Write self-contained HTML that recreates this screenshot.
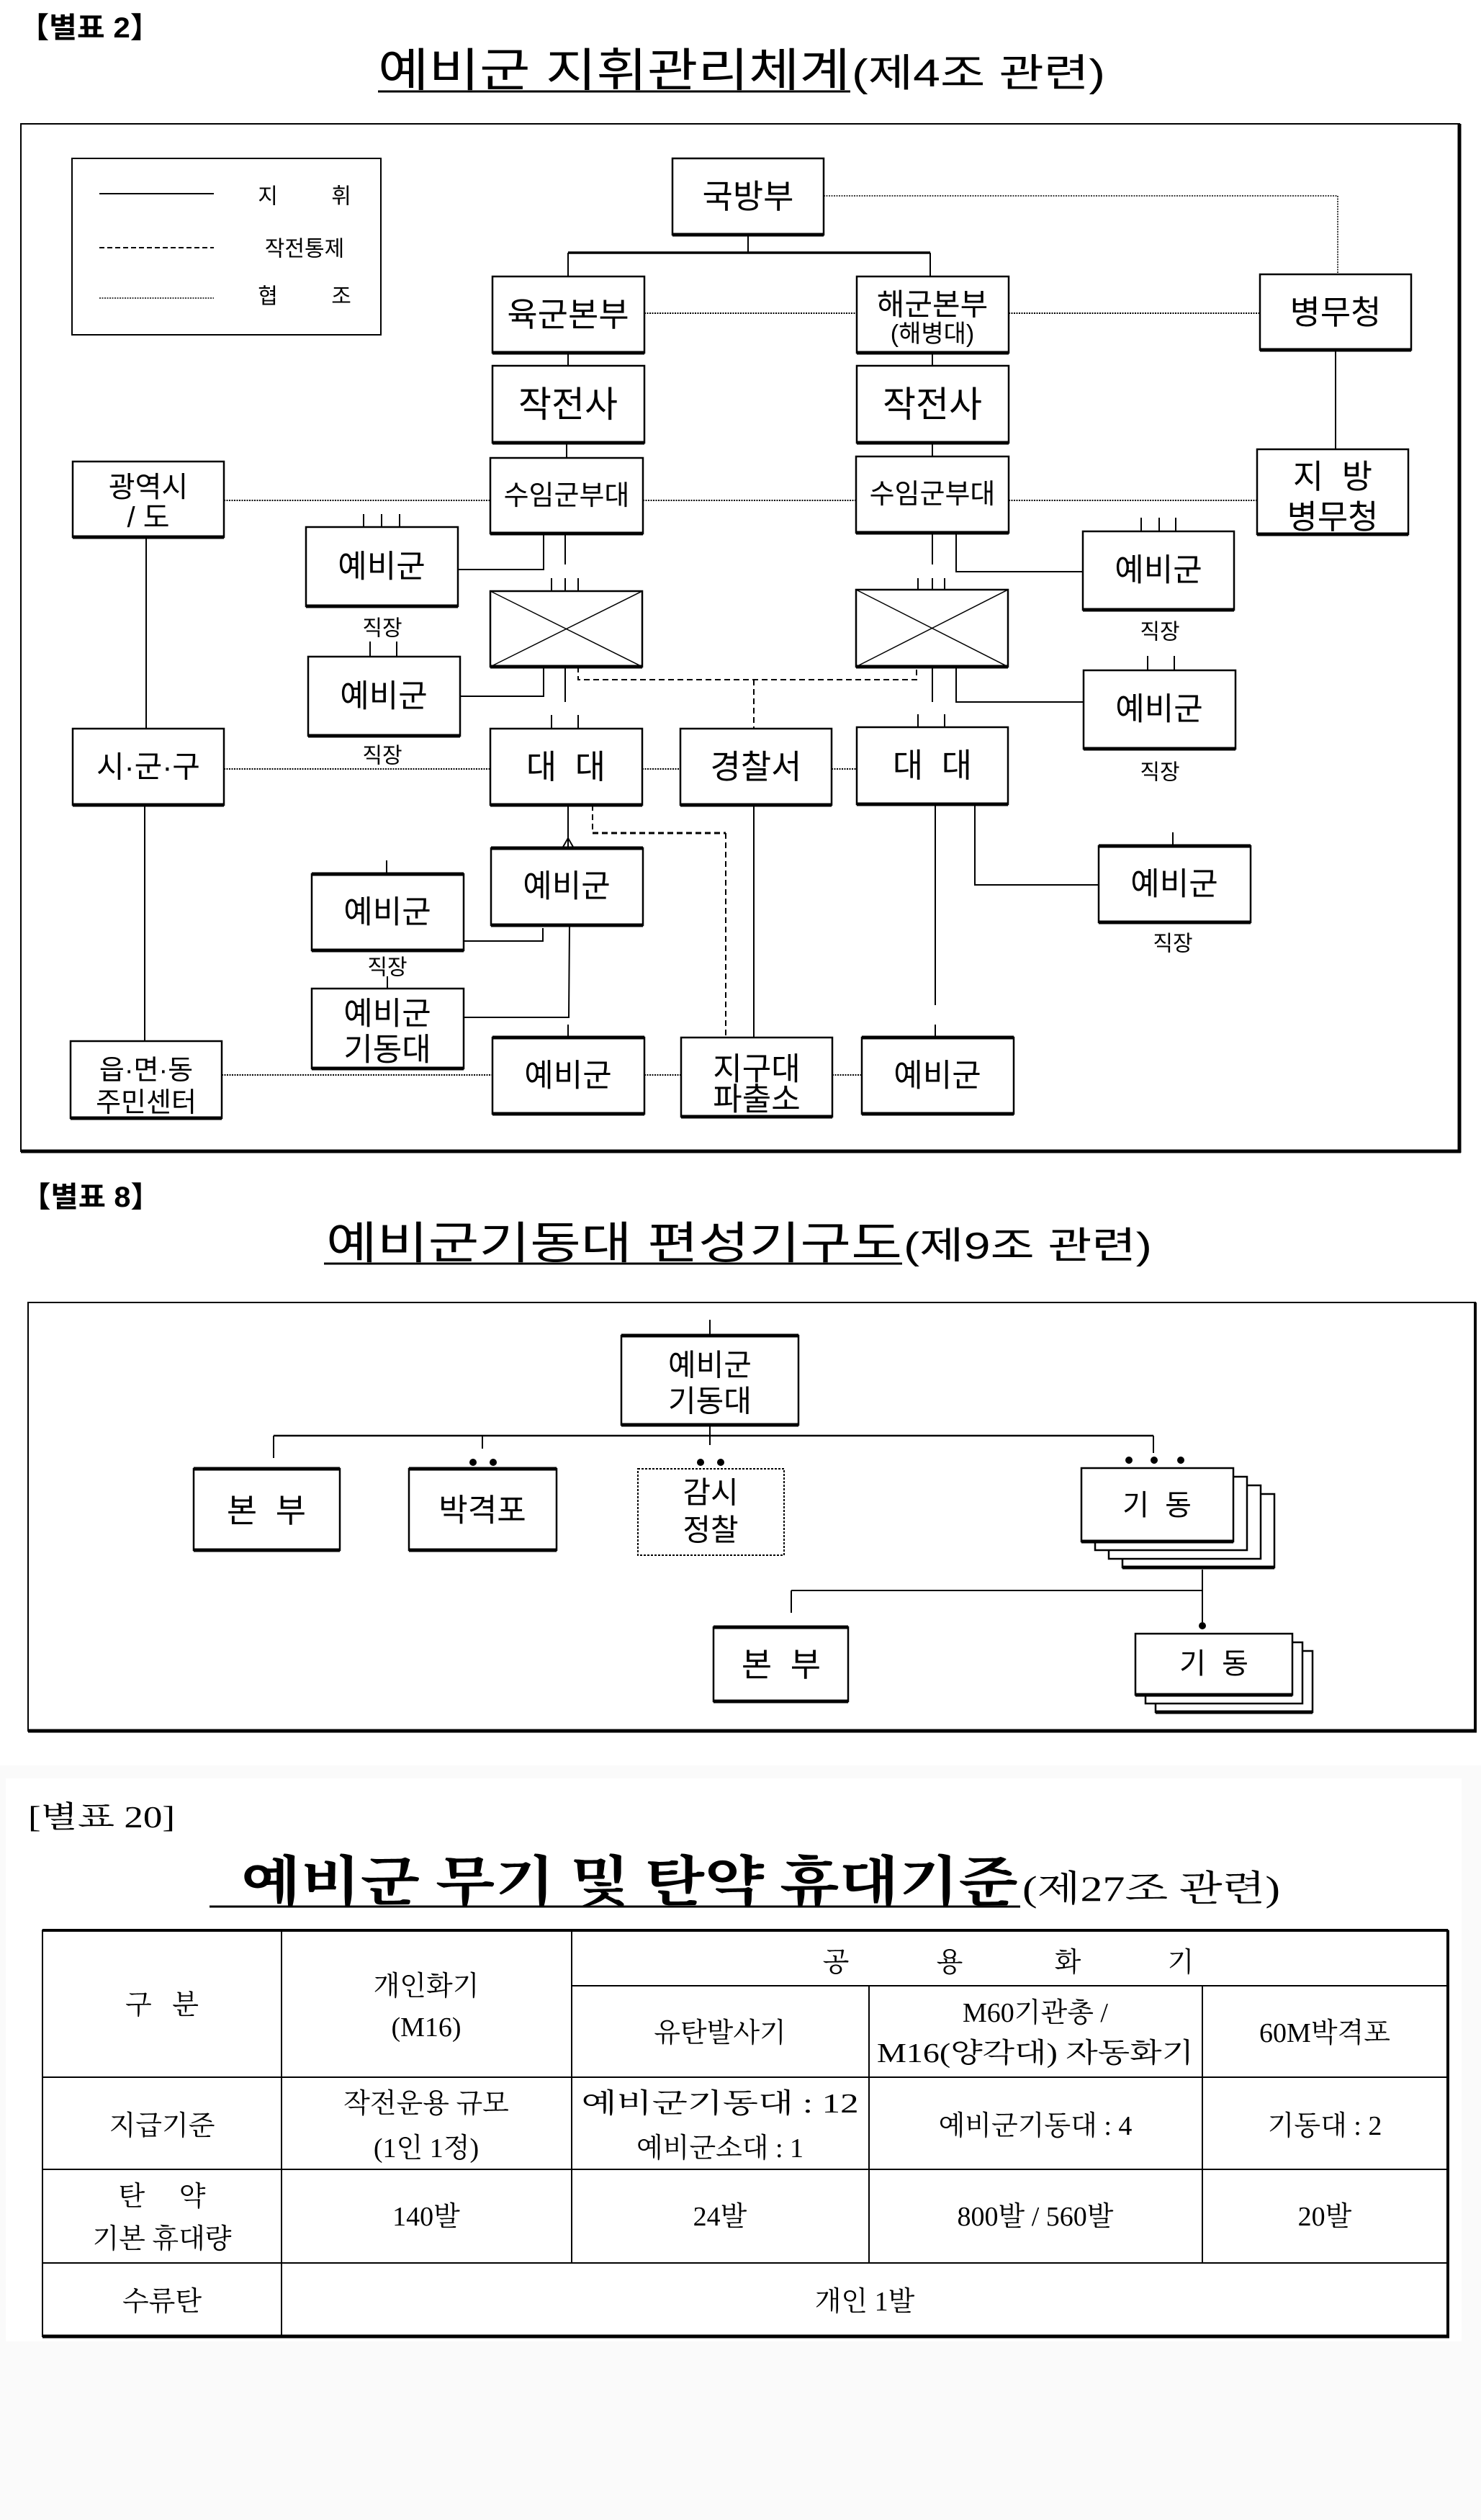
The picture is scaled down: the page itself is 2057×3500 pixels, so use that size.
<!DOCTYPE html>
<html><head><meta charset="utf-8"><style>
html,body{margin:0;padding:0;background:#fff;}
svg{display:block;}
.s{font-family:"Liberation Sans","Noto Sans CJK KR",sans-serif;fill:#000;}
.r{font-family:"Liberation Serif","Noto Serif CJK SC",serif;fill:#000;}
</style></head><body>
<svg width="2057" height="3500" viewBox="0 0 2057 3500" xmlns="http://www.w3.org/2000/svg">
<rect x="0" y="0" width="2057" height="3500" fill="#fff"/>
<!-- SECTION 1 -->
<text class="s" x="26" y="52" font-size="40" font-weight="bold" textLength="197" lengthAdjust="spacingAndGlyphs">【별표 2】</text>
<text class="s" x="525" y="120" font-size="64" textLength="656" lengthAdjust="spacingAndGlyphs">예비군 지휘관리체계</text>
<text class="s" x="1183" y="120" font-size="54" textLength="352" lengthAdjust="spacingAndGlyphs">(제4조 관련)</text>
<line x1="525" y1="127" x2="1181" y2="127" stroke="#000" stroke-width="3"/>

<g fill="none" stroke="#000">
<rect x="29" y="172" width="1998" height="1427" stroke-width="2"/>
<line x1="2027" y1="172" x2="2027" y2="1601" stroke-width="5"/>
<line x1="29" y1="1599" x2="2029" y2="1599" stroke-width="5"/>
<!-- legend -->
<rect x="100" y="220" width="429" height="245" stroke-width="2"/>
<line x1="138" y1="269" x2="297" y2="269" stroke-width="2"/>
<line x1="138" y1="344" x2="297" y2="344" stroke-width="2" stroke-dasharray="7,4"/>
<line x1="138" y1="414" x2="297" y2="414" stroke-width="1.5" stroke-dasharray="2,1.5"/>
</g>
<g class="s" font-size="30" text-anchor="middle" dominant-baseline="central">
<text x="372" y="273">지</text><text x="474" y="273">휘</text>
<text x="423" y="346">작전통제</text>
<text x="372" y="412">협</text><text x="474" y="412">조</text>
</g>

<!-- boxes -->
<g fill="#fff" stroke="#000" stroke-width="2.5">
<rect x="934" y="220" width="210" height="106"/>
<rect x="684" y="384" width="211" height="106"/>
<rect x="1190" y="384" width="211" height="106"/>
<rect x="1750" y="381" width="210" height="105"/>
<rect x="684" y="508" width="211" height="107"/>
<rect x="1190" y="508" width="211" height="107"/>
<rect x="681" y="636" width="212" height="105"/>
<rect x="1189" y="634" width="212" height="106"/>
<rect x="1746" y="624" width="210" height="118"/>
<rect x="101" y="641" width="210" height="105"/>
<rect x="425" y="732" width="211" height="110"/>
<rect x="681" y="821" width="211" height="105"/>
<rect x="428" y="912" width="211" height="110"/>
<rect x="1504" y="738" width="210" height="109"/>
<rect x="1189" y="819" width="211" height="107"/>
<rect x="1505" y="931" width="211" height="109"/>
<rect x="101" y="1012" width="210" height="106"/>
<rect x="681" y="1012" width="211" height="106"/>
<rect x="945" y="1012" width="210" height="106"/>
<rect x="1190" y="1010" width="210" height="107"/>
<rect x="1526" y="1175" width="211" height="106"/>
<rect x="682" y="1178" width="211" height="107"/>
<rect x="433" y="1214" width="211" height="106"/>
<rect x="433" y="1373" width="211" height="111"/>
<rect x="98" y="1446" width="210" height="107"/>
<rect x="684" y="1441" width="211" height="106"/>
<rect x="946" y="1441" width="210" height="110"/>
<rect x="1197" y="1441" width="211" height="106"/>
</g>
<!-- thick bottoms -->
<g stroke="#000" stroke-width="5">
<line x1="934" y1="326" x2="1144" y2="326"/>
<line x1="684" y1="490" x2="895" y2="490"/>
<line x1="1190" y1="490" x2="1401" y2="490"/>
<line x1="1750" y1="486" x2="1960" y2="486"/>
<line x1="684" y1="615" x2="895" y2="615"/>
<line x1="1190" y1="615" x2="1401" y2="615"/>
<line x1="681" y1="741" x2="893" y2="741"/>
<line x1="1189" y1="740" x2="1401" y2="740"/>
<line x1="1746" y1="742" x2="1956" y2="742"/>
<line x1="101" y1="746" x2="311" y2="746"/>
<line x1="425" y1="842" x2="636" y2="842"/>
<line x1="681" y1="926" x2="892" y2="926"/>
<line x1="428" y1="1022" x2="639" y2="1022"/>
<line x1="1504" y1="847" x2="1714" y2="847"/>
<line x1="1189" y1="926" x2="1400" y2="926"/>
<line x1="1505" y1="1040" x2="1716" y2="1040"/>
<line x1="101" y1="1118" x2="311" y2="1118"/>
<line x1="681" y1="1118" x2="892" y2="1118"/>
<line x1="945" y1="1118" x2="1155" y2="1118"/>
<line x1="1190" y1="1117" x2="1400" y2="1117"/>
<line x1="1526" y1="1281" x2="1737" y2="1281"/>
<line x1="1526" y1="1175" x2="1737" y2="1175"/>
<line x1="682" y1="1285" x2="893" y2="1285"/>
<line x1="682" y1="1178" x2="893" y2="1178"/>
<line x1="433" y1="1320" x2="644" y2="1320"/>
<line x1="433" y1="1214" x2="644" y2="1214"/>
<line x1="433" y1="1484" x2="644" y2="1484"/>
<line x1="98" y1="1553" x2="308" y2="1553"/>
<line x1="684" y1="1547" x2="895" y2="1547"/>
<line x1="684" y1="1441" x2="895" y2="1441"/>
<line x1="946" y1="1551" x2="1156" y2="1551"/>
<line x1="1197" y1="1547" x2="1408" y2="1547"/>
<line x1="1197" y1="1441" x2="1408" y2="1441"/>
</g>
<!-- X marks -->
<g stroke="#000" stroke-width="1.5">
<line x1="681" y1="821" x2="892" y2="926"/><line x1="892" y1="821" x2="681" y2="926"/>
<line x1="1189" y1="819" x2="1400" y2="926"/><line x1="1400" y1="819" x2="1189" y2="926"/>
</g>
<!-- solid connectors -->
<g fill="none" stroke="#000" stroke-width="2">
<line x1="1039" y1="326" x2="1039" y2="351"/>
<line x1="789" y1="351" x2="1292" y2="351" stroke-width="3.5"/>
<line x1="789" y1="351" x2="789" y2="384"/>
<line x1="1292" y1="351" x2="1292" y2="384"/>
<line x1="789" y1="490" x2="789" y2="508"/>
<line x1="1295" y1="490" x2="1295" y2="508"/>
<line x1="787" y1="615" x2="787" y2="636"/>
<line x1="1295" y1="615" x2="1295" y2="634"/>
<line x1="1855" y1="486" x2="1855" y2="624"/>
<line x1="203" y1="746" x2="203" y2="1012"/>
<polyline points="755,741 755,791 636,791"/>
<line x1="785" y1="741" x2="785" y2="784"/>
<line x1="505" y1="714" x2="505" y2="732"/><line x1="530" y1="714" x2="530" y2="732"/><line x1="555" y1="714" x2="555" y2="732"/>
<line x1="766" y1="803" x2="766" y2="821"/><line x1="785" y1="803" x2="785" y2="821"/><line x1="803" y1="803" x2="803" y2="821"/>
<polyline points="755,926 755,967 639,967"/>
<line x1="785" y1="926" x2="785" y2="975"/>
<line x1="514" y1="891" x2="514" y2="912"/><line x1="551" y1="891" x2="551" y2="912"/>
<line x1="766" y1="993" x2="766" y2="1012"/><line x1="803" y1="993" x2="803" y2="1012"/>
<line x1="1295" y1="740" x2="1295" y2="784"/>
<polyline points="1328,740 1328,794 1504,794"/>
<line x1="1585" y1="719" x2="1585" y2="738"/><line x1="1610" y1="719" x2="1610" y2="738"/><line x1="1633" y1="719" x2="1633" y2="738"/>
<line x1="1275" y1="803" x2="1275" y2="819"/><line x1="1295" y1="803" x2="1295" y2="819"/><line x1="1312" y1="803" x2="1312" y2="819"/>
<polyline points="1328,926 1328,975 1505,975"/>
<line x1="1295" y1="926" x2="1295" y2="975"/>
<line x1="1275" y1="992" x2="1275" y2="1010"/><line x1="1312" y1="992" x2="1312" y2="1010"/>
<line x1="1594" y1="911" x2="1594" y2="931"/><line x1="1631" y1="911" x2="1631" y2="931"/>
<line x1="201" y1="1118" x2="201" y2="1446"/>
<line x1="789" y1="1118" x2="789" y2="1176"/>
<polyline points="781,1178 789,1164 797,1178"/>
<line x1="1047" y1="1118" x2="1047" y2="1441"/>
<line x1="1299" y1="1117" x2="1299" y2="1396"/>
<polyline points="1354,1117 1354,1229 1526,1229"/>
<line x1="1629" y1="1156" x2="1629" y2="1175"/>
<line x1="537" y1="1195" x2="537" y2="1214"/>
<polyline points="644,1307 754,1307 754,1289"/>
<polyline points="791,1285 790,1413 644,1413"/>
<line x1="538" y1="1356" x2="538" y2="1373"/>
<line x1="789" y1="1423" x2="789" y2="1441"/>
<line x1="1299" y1="1423" x2="1299" y2="1441"/>
</g>
<!-- dashed -->
<g fill="none" stroke="#000" stroke-width="2" stroke-dasharray="8,5">
<polyline points="803,926 803,944 1273,944 1273,926"/>
<line x1="1047" y1="944" x2="1047" y2="1012"/>
<line x1="823" y1="1118" x2="823" y2="1157"/>
<line x1="823" y1="1157" x2="1008" y2="1157" stroke-width="3"/>
<line x1="1008" y1="1157" x2="1008" y2="1441"/>
</g>
<!-- dotted -->
<g fill="none" stroke="#000" stroke-width="2" stroke-dasharray="2,1.5">
<polyline points="1144,272 1858,272 1858,381" stroke-width="1.5"/>
<line x1="895" y1="435" x2="1190" y2="435"/>
<line x1="1401" y1="435" x2="1750" y2="435"/>
<line x1="311" y1="695" x2="681" y2="695"/>
<line x1="893" y1="695" x2="1189" y2="695"/>
<line x1="1401" y1="695" x2="1746" y2="695"/>
<line x1="311" y1="1068" x2="681" y2="1068"/>
<line x1="892" y1="1068" x2="945" y2="1068"/>
<line x1="1155" y1="1068" x2="1190" y2="1068"/>
<line x1="308" y1="1493" x2="684" y2="1493"/>
<line x1="895" y1="1493" x2="946" y2="1493"/>
<line x1="1156" y1="1493" x2="1197" y2="1493"/>
</g>
<!-- box labels -->
<g class="s" text-anchor="middle" dominant-baseline="central" font-size="46">
<text x="1039" y="273">국방부</text>
<text x="789" y="437">육군본부</text>
<text x="1295" y="423" font-size="42">해군본부</text>
<text x="1295" y="464" font-size="34">(해병대)</text>
<text x="1855" y="434">병무청</text>
<text x="789" y="562" font-size="50">작전사</text>
<text x="1295" y="562" font-size="50">작전사</text>
<text x="787" y="689" font-size="38">수임군부대</text>
<text x="1295" y="687" font-size="38">수임군부대</text>
<text x="1851" y="662">지 &#160;방</text>
<text x="1851" y="718">병무청</text>
<text x="206" y="677" font-size="40">광역시</text>
<text x="206" y="719" font-size="40">/ 도</text>
<text x="530" y="787" font-size="44">예비군</text>
<text x="533" y="967" font-size="44">예비군</text>
<text x="1609" y="792" font-size="44">예비군</text>
<text x="1610" y="985" font-size="44">예비군</text>
<text x="206" y="1065" font-size="42">시·군·구</text>
<text x="786" y="1065">대 &#160;대</text>
<text x="1050" y="1065">경찰서</text>
<text x="1295" y="1063">대 &#160;대</text>
<text x="1631" y="1228" font-size="44">예비군</text>
<text x="787" y="1231" font-size="44">예비군</text>
<text x="538" y="1267" font-size="44">예비군</text>
<text x="538" y="1408" font-size="44">예비군</text>
<text x="538" y="1458" font-size="44">기동대</text>
<text x="203" y="1487" font-size="38">읍·면·동</text>
<text x="203" y="1532" font-size="38">주민센터</text>
<text x="789" y="1494" font-size="44">예비군</text>
<text x="1051" y="1485" font-size="44">지구대</text>
<text x="1051" y="1527" font-size="44">파출소</text>
<text x="1302" y="1494" font-size="44">예비군</text>
</g>
<g class="s" text-anchor="middle" dominant-baseline="central" font-size="30">
<text x="531" y="873">직장</text>
<text x="531" y="1050">직장</text>
<text x="1611" y="878">직장</text>
<text x="1611" y="1073">직장</text>
<text x="1629" y="1311">직장</text>
<text x="538" y="1344">직장</text>
</g>

<!-- SECTION 2 -->
<text class="s" x="29" y="1676" font-size="40" font-weight="bold" textLength="194" lengthAdjust="spacingAndGlyphs">【별표 8】</text>
<text class="s" x="453" y="1748" font-size="62" textLength="800" lengthAdjust="spacingAndGlyphs">예비군기동대 편성기구도</text>
<text class="s" x="1255" y="1748" font-size="52" textLength="345" lengthAdjust="spacingAndGlyphs">(제9조 관련)</text>
<line x1="450" y1="1755" x2="1253" y2="1755" stroke="#000" stroke-width="3"/>
<g fill="none" stroke="#000">
<rect x="39" y="1809" width="2010" height="595" stroke-width="2"/>
<line x1="2049" y1="1809" x2="2049" y2="2406" stroke-width="4"/>
<line x1="39" y1="2404" x2="2051" y2="2404" stroke-width="5"/>
</g>
<g fill="none" stroke="#000" stroke-width="2">
<line x1="986" y1="1833" x2="986" y2="1855"/>
<line x1="986" y1="1979" x2="986" y2="2007"/>
<line x1="380" y1="1994" x2="1602" y2="1994" stroke-width="2.5"/>
<line x1="380" y1="1994" x2="380" y2="2025"/>
<line x1="670" y1="1994" x2="670" y2="2012"/>
<line x1="1602" y1="1994" x2="1602" y2="2018"/>
<line x1="1670" y1="2180" x2="1670" y2="2253"/>
<line x1="1099" y1="2209" x2="1670" y2="2209"/>
<line x1="1099" y1="2209" x2="1099" y2="2240"/>
</g>
<g fill="#fff" stroke="#000" stroke-width="2.5">
<rect x="863" y="1855" width="246" height="124"/>
<rect x="269" y="2040" width="203" height="113"/>
<rect x="568" y="2040" width="205" height="113"/>
<rect x="886" y="2040" width="203" height="120" stroke-width="2" stroke-dasharray="3,2"/>
<rect x="1559" y="2075" width="211" height="102"/>
<rect x="1540" y="2063" width="211" height="102"/>
<rect x="1521" y="2051" width="211" height="102"/>
<rect x="1502" y="2039" width="211" height="102"/>
<rect x="991" y="2260" width="187" height="103"/>
<rect x="1605" y="2293" width="218" height="85"/>
<rect x="1591" y="2281" width="218" height="85"/>
<rect x="1577" y="2269" width="218" height="85"/>
</g>
<g stroke="#000" stroke-width="5">
<line x1="863" y1="1979" x2="1109" y2="1979"/><line x1="863" y1="1855" x2="1109" y2="1855"/>
<line x1="269" y1="2153" x2="472" y2="2153"/><line x1="269" y1="2040" x2="472" y2="2040"/>
<line x1="568" y1="2153" x2="773" y2="2153"/><line x1="568" y1="2040" x2="773" y2="2040"/>
<line x1="1502" y1="2141" x2="1713" y2="2141"/><line x1="1559" y1="2177" x2="1770" y2="2177"/>
<line x1="991" y1="2363" x2="1178" y2="2363"/><line x1="991" y1="2260" x2="1178" y2="2260"/>
<line x1="1577" y1="2354" x2="1795" y2="2354"/><line x1="1605" y1="2378" x2="1823" y2="2378"/>
</g>
<g fill="#000">
<circle cx="657" cy="2031" r="5"/><circle cx="685" cy="2031" r="5"/>
<circle cx="973" cy="2031" r="5"/><circle cx="1001" cy="2031" r="5"/>
<circle cx="1568" cy="2028" r="5"/><circle cx="1603" cy="2028" r="5"/><circle cx="1640" cy="2028" r="5"/>
<circle cx="1670" cy="2258" r="5"/>
</g>
<g class="s" text-anchor="middle" dominant-baseline="central" font-size="42">
<text x="986" y="1896">예비군</text>
<text x="986" y="1946">기동대</text>
<text x="370" y="2098" font-size="46">본 &#160;부</text>
<text x="670" y="2098" font-size="44">박격포</text>
<text x="987" y="2073">감시</text>
<text x="987" y="2125">정찰</text>
<text x="1607" y="2091" font-size="40">기 &#160;동</text>
<text x="1085" y="2312" font-size="46">본 &#160;부</text>
<text x="1686" y="2311" font-size="40">기 &#160;동</text>
</g>

<!-- SECTION 3 -->
<rect x="0" y="2452" width="2057" height="1048" fill="#fafafa"/>
<rect x="8" y="2470" width="2022" height="782" fill="#fff"/>
<text class="r" x="39" y="2538" font-size="42" fill="#222" textLength="204" lengthAdjust="spacingAndGlyphs">[별표 20]</text>
<text class="r" x="335" y="2640" font-size="76" font-weight="bold" textLength="1079" lengthAdjust="spacingAndGlyphs">예비군 무기 및 탄약 휴대기준</text>
<text class="r" x="1420" y="2640" font-size="50" fill="#222" textLength="358" lengthAdjust="spacingAndGlyphs">(제27조 관련)</text>
<line x1="291" y1="2648" x2="1417" y2="2648" stroke="#000" stroke-width="3"/>
<g fill="none" stroke="#000" stroke-width="2">
<rect x="59" y="2681" width="1952" height="564"/>
<line x1="59" y1="2681" x2="2011" y2="2681" stroke-width="4"/>
<line x1="59" y1="3245" x2="2013" y2="3245" stroke-width="5"/>
<line x1="2011" y1="2681" x2="2011" y2="3247" stroke-width="4"/>
<line x1="391" y1="2681" x2="391" y2="3245"/>
<line x1="794" y1="2681" x2="794" y2="3143"/>
<line x1="1207" y1="2758" x2="1207" y2="3143"/>
<line x1="1670" y1="2758" x2="1670" y2="3143"/>
<line x1="794" y1="2758" x2="2011" y2="2758"/>
<line x1="59" y1="2885" x2="2011" y2="2885"/>
<line x1="59" y1="3013" x2="2011" y2="3013"/>
<line x1="59" y1="3143" x2="2011" y2="3143"/>
</g>
<g class="r" text-anchor="middle" dominant-baseline="central" font-size="38" fill="#222">
<text x="225" y="2785">구 &#160; 분</text>
<text x="592" y="2759">개인화기</text>
<text x="592" y="2816">(M16)</text>
<text x="1161" y="2726">공</text><text x="1319" y="2726">용</text><text x="1483" y="2726">화</text><text x="1640" y="2726">기</text>
<text x="1000" y="2824">유탄발사기</text>
<text x="1438" y="2796">M60기관총 /</text>
<text x="1438" y="2852" textLength="440" lengthAdjust="spacingAndGlyphs">M16(양각대) 자동화기</text>
<text x="1840" y="2824">60M박격포</text>
<text x="225" y="2953">지급기준</text>
<text x="592" y="2922">작전운용 규모</text>
<text x="592" y="2984">(1인 1정)</text>
<text x="1000" y="2922" textLength="385" lengthAdjust="spacingAndGlyphs">예비군기동대 : 12</text>
<text x="1000" y="2984">예비군소대 : 1</text>
<text x="1438" y="2953">예비군기동대 : 4</text>
<text x="1840" y="2953">기동대 : 2</text>
<text x="225" y="3051">탄 &#160; &#160; 약</text>
<text x="225" y="3110">기본 휴대량</text>
<text x="592" y="3079">140발</text>
<text x="1000" y="3079">24발</text>
<text x="1438" y="3079">800발 / 560발</text>
<text x="1840" y="3079">20발</text>
<text x="225" y="3197">수류탄</text>
<text x="1201" y="3197">개인 1발</text>
</g>
</svg>
</body></html>
